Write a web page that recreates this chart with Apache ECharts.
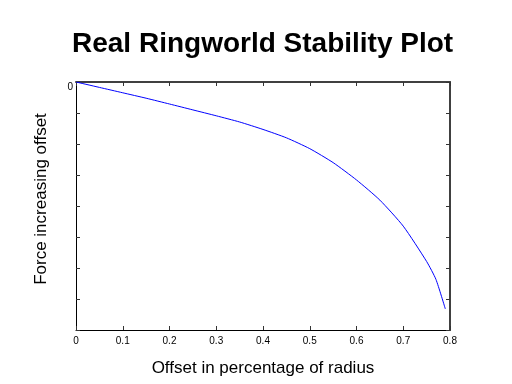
<!DOCTYPE html>
<html><head><meta charset="utf-8">
<script src="https://cdn.jsdelivr.net/npm/echarts@6/dist/echarts.min.js"></script>
<style>html,body{margin:0;padding:0;background:#fff}#c{width:512px;height:384px}</style>
</head><body><div id="c"></div>
<script>
var offsets = [0, 0.05, 0.1, 0.15, 0.2, 0.25, 0.3, 0.35, 0.4, 0.45, 0.5, 0.55, 0.6, 0.65, 0.7, 0.75, 0.77, 0.79];
var forces  = [0, -0.174, -0.348, -0.523, -0.71, -0.90, -1.09, -1.29, -1.53, -1.80, -2.15, -2.60, -3.16, -3.81, -4.65, -5.79, -6.37, -7.32];
var xTicks = ['0', '0.1', '0.2', '0.3', '0.4', '0.5', '0.6', '0.7', '0.8'];
var yTickLabels = ['0'];

var chart = echarts.init(document.getElementById('c'), null, {renderer: 'canvas'});
var pts = offsets.map(function (x, i) { return [x, forces[i]]; });
var mainLine = {show: true, onZero: false, lineStyle: {color: '#000', width: 1}};
var sideLine = {show: true, onZero: false, lineStyle: {color: '#404040', width: 2}};
var ticks = {show: true, inside: true, length: 4, lineStyle: {color: '#333'}};
chart.setOption({
  animation: false,
  backgroundColor: '#fff',
  title: {
    text: 'Real Ringworld Stability Plot',
    left: 67, top: 25,
    textStyle: {fontFamily: 'Liberation Sans', fontWeight: 'bold', fontSize: 28, color: '#000'}
  },
  grid: {left: 76, right: 62, top: 82, bottom: 54},
  xAxis: [{
    type: 'value', min: 0, max: 0.8, interval: 0.1, position: 'bottom',
    name: 'Offset in percentage of radius', nameLocation: 'middle', nameGap: 30,
    nameTextStyle: {fontFamily: 'Liberation Sans', fontSize: 17, color: '#000'},
    axisLine: mainLine, axisTick: ticks, splitLine: {show: false},
    axisLabel: {fontFamily: 'Liberation Sans', fontSize: 10, color: '#000', margin: 6,
      formatter: function (v) { return xTicks[Math.round(v * 10)]; }}
  }, {
    type: 'value', min: 0, max: 0.8, interval: 0.1, position: 'top',
    axisLine: sideLine, axisTick: ticks, splitLine: {show: false}, axisLabel: {show: false}
  }],
  yAxis: [{
    type: 'value', min: -8, max: 0, interval: 1, position: 'left',
    name: 'Force increasing offset', nameLocation: 'middle', nameGap: 26,
    nameTextStyle: {fontFamily: 'Liberation Sans', fontSize: 17, color: '#000', padding: [0, 0, 0, 14]},
    axisLine: mainLine, axisTick: ticks, splitLine: {show: false},
    axisLabel: {fontFamily: 'Liberation Sans', fontSize: 10, color: '#000', margin: 3, verticalAlign: 'top',
      formatter: function (v) { return v === 0 ? yTickLabels[0] : ''; }}
  }, {
    type: 'value', min: -8, max: 0, interval: 1, position: 'right',
    axisLine: sideLine, axisTick: ticks, splitLine: {show: false}, axisLabel: {show: false}
  }],
  series: [{
    type: 'line', data: pts, smooth: 0.2, showSymbol: false,
    lineStyle: {color: '#0000ff', width: 1}
  }]
});
</script></body></html>
